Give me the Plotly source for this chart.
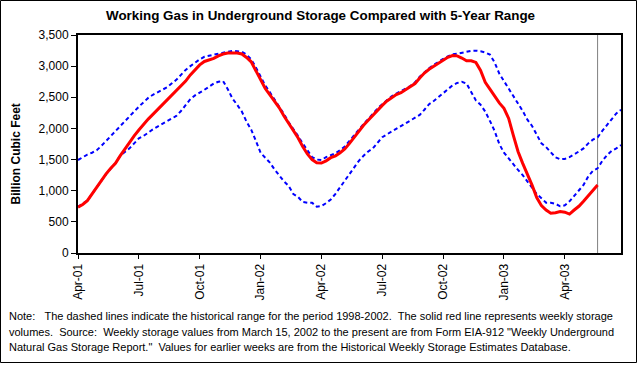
import pandas as pd
import plotly.graph_objects as go

# ---- data (weekly, starting first week of April 2001) ----
tick_labels = ["Apr-01", "Jul-01", "Oct-01", "Jan-02", "Apr-02",
               "Jul-02", "Oct-02", "Jan-03", "Apr-03"]

range_high = [
    1493, 1540, 1580, 1610, 1650, 1720, 1800, 1880, 1950, 2040,
    2120, 2200, 2275, 2350, 2420, 2490, 2540, 2580, 2617, 2660,
    2720, 2780, 2860, 2940, 3000, 3060, 3110, 3150, 3170, 3180,
    3200, 3215, 3235, 3245, 3240, 3230, 3185, 3110, 2980, 2830,
    2690, 2580, 2470, 2360, 2230, 2100, 2000, 1880, 1760, 1650,
    1540, 1500, 1493, 1540, 1575, 1600, 1650, 1710, 1800, 1890,
    1990, 2070, 2150, 2240, 2320, 2390, 2460, 2515, 2560, 2595,
    2640, 2680, 2740, 2830, 2905, 2965, 3020, 3070, 3115, 3155,
    3190, 3200, 3216, 3230, 3245, 3248, 3240, 3220, 3185, 3060,
    2880, 2760, 2640, 2520, 2420, 2280, 2140, 2040, 1900, 1760,
    1700, 1611, 1535, 1505, 1510, 1540, 1580, 1630, 1680, 1760,
    1820, 1857, 1960, 2050, 2150, 2240, 2300,
]

range_low = [
    743, 790, 840, 950, 1060, 1175, 1265, 1355, 1440, 1560,
    1620, 1680, 1760, 1840, 1880, 1940, 1985, 2030, 2075, 2120,
    2160, 2200, 2280, 2380, 2470, 2530, 2570, 2620, 2670, 2720,
    2750, 2760, 2630, 2480, 2380, 2270, 2110, 1980, 1800, 1610,
    1530, 1450, 1340, 1240, 1150, 1076, 947, 900, 820, 808,
    808, 743, 755, 800, 860, 950, 1060, 1160, 1270, 1380,
    1480, 1560, 1630, 1681, 1770, 1860, 1905, 1950, 1991, 2040,
    2090, 2135, 2180, 2216, 2300, 2390, 2440, 2500, 2564, 2630,
    2690, 2730, 2748, 2720, 2580, 2450, 2380, 2270, 2120, 1960,
    1750, 1611, 1520, 1420, 1333, 1250, 1150, 1065, 947, 880,
    808, 808, 790, 750, 765, 830, 920, 1020, 1092, 1230,
    1320, 1360, 1477, 1570, 1640, 1680, 1734,
]

storage = [
    734, 780, 840, 950, 1060, 1180, 1270, 1360, 1440, 1560,
    1670, 1780, 1880, 1975, 2070, 2150, 2225, 2300, 2376, 2455,
    2530, 2600, 2675, 2760, 2860, 2940, 3020, 3075, 3100, 3125,
    3165, 3195, 3210, 3216, 3210, 3195, 3140, 3070, 2920, 2770,
    2640, 2537, 2440, 2330, 2200, 2080, 1980, 1850, 1710, 1590,
    1500, 1450, 1445, 1480, 1530, 1560, 1610, 1670, 1760, 1860,
    1960, 2050, 2130, 2216, 2300, 2370, 2440, 2500, 2545, 2574,
    2620, 2665, 2720, 2810, 2890, 2950, 3000, 3050, 3100, 3142,
    3170, 3165, 3130, 3087, 3087, 3060, 2930, 2740, 2630, 2510,
    2410, 2323, 2160, 1890, 1630, 1440, 1270, 1090, 890, 760,
    690, 640, 647, 665, 655, 625, 690, 750, 830, 920,
    1000, 1092,
]

weeks = pd.date_range("2001-04-06", periods=len(range_high), freq="7D").strftime("%Y-%m-%d").tolist()

# ---- geometry (pixels) ----
W, H = 638, 366
L, R, T, B = 78, 17, 35, 113
PW, PH = W - L - R, H - T - B


def px(x):
    return (x - L) / PW


def py(y):
    return (H - B - y) / PH


fig = go.Figure()

dash_style = dict(color="#0000FF", width=2, dash="4px,3px")
fig.add_trace(go.Scatter(x=weeks, y=range_high, mode="lines", line=dash_style,
                         hoverinfo="skip", showlegend=False))
fig.add_trace(go.Scatter(x=weeks, y=range_low, mode="lines", line=dash_style,
                         hoverinfo="skip", showlegend=False))
fig.add_trace(go.Scatter(x=weeks[:len(storage)], y=storage, mode="lines",
                         line=dict(color="#FF0000", width=3), showlegend=False))

# vertical marker at the latest reported week
fig.add_shape(type="line", xref="x", yref="paper",
              x0=weeks[len(storage) - 1], x1=weeks[len(storage) - 1], y0=0, y1=1,
              line=dict(color="#808080", width=1), layer="below")

# outer frame
fig.add_shape(type="rect", xref="paper", yref="paper",
              x0=px(0.5), x1=px(636.5), y0=py(362.5), y1=py(0.5),
              line=dict(color="black", width=1))

font = "Arial, 'Liberation Sans', sans-serif"

fig.add_annotation(text="<b>Working Gas in Underground Storage Compared with 5-Year Range</b>",
                   xref="paper", yref="paper", x=px(320.5), y=py(16),
                   xanchor="center", yanchor="middle", showarrow=False,
                   font=dict(family=font, size=13.4, color="black"))

fig.add_annotation(text="<b>Billion Cubic Feet</b>", textangle=-90,
                   xref="paper", yref="paper", x=px(15.5), y=py(154),
                   xanchor="center", yanchor="middle", showarrow=False,
                   font=dict(family=font, size=12, color="black"))

note_lines = [
    "Note:\u00a0\u00a0\u00a0The dashed lines indicate the historical range for the period 1998-2002.\u00a0 The solid red line represents weekly storage",
    "volumes.\u00a0 Source:\u00a0 Weekly storage values from March 15, 2002 to the present are from Form EIA-912 \"Weekly Underground",
    "Natural Gas Storage Report.\"\u00a0 Values for earlier weeks are from the Historical Weekly Storage Estimates Database.",
]
for line_text, yc in zip(note_lines, [316, 331.5, 347]):
    fig.add_annotation(text=line_text, xref="paper", yref="paper",
                       x=px(7), y=py(yc), xanchor="left", yanchor="middle",
                       showarrow=False, font=dict(family=font, size=11, color="black"))

fig.update_xaxes(type="category", range=[0, len(range_high) - 1],
                 tickmode="array", tickvals=weeks[::13][:len(tick_labels)], ticktext=tick_labels,
                 tickangle=-90, ticks="outside", ticklen=4, tickwidth=1, tickcolor="black",
                 showgrid=False, zeroline=False,
                 showline=True, linecolor="black", linewidth=2, mirror=True,
                 tickfont=dict(family=font, size=12, color="black"))
fig.update_yaxes(range=[0, 3500], dtick=500, tickformat=",",
                 ticks="outside", ticklen=5, tickwidth=1, tickcolor="black",
                 showgrid=False, zeroline=False,
                 showline=True, linecolor="black", linewidth=2, mirror=True,
                 tickfont=dict(family=font, size=12, color="black"))

fig.update_layout(width=W, height=H, margin=dict(l=L, r=R, t=T, b=B),
                  paper_bgcolor="white", plot_bgcolor="white", showlegend=False)

fig.write_html("out.html", config={"displayModeBar": False},
               post_script="document.body.style.margin='0px';")
